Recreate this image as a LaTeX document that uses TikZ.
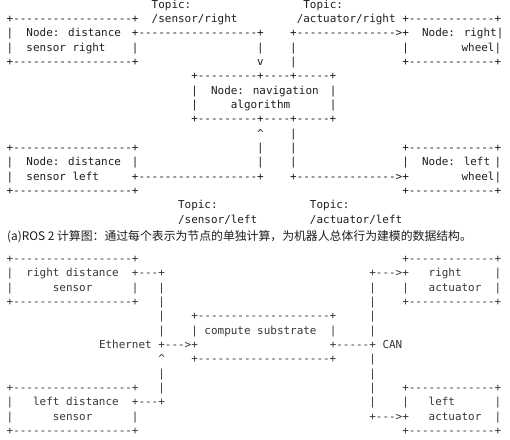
\documentclass[tikz,border=0pt]{standalone}
\usepackage{fontspec}
\newfontfamily\asciifont{DejaVu Sans Mono}[Ligatures=TeXOff]
\newfontfamily\cjkfont{Noto Sans CJK SC}
\definecolor{figK}{RGB}{30,30,30}
\definecolor{figG}{RGB}{55,55,55}

\begin{document}
\begin{tikzpicture}[cell/.style={anchor=base west,inner sep=0pt,outer sep=0pt,font=\asciifont\fontsize{10.95pt}{13pt}\selectfont}]
\fill[white] (0,0) rectangle (510pt,-439pt);
\useasboundingbox (0,0) rectangle (510pt,-439pt);
% (a) computation graph, one cell = one character
\begin{scope}[shift={(6.7pt,-8.27pt)},x=6.593pt,y=-14.33pt,every node/.style={cell,text=figK}]
\node (a0c22) at (22,0) {Topic:};
\node (a0c45) at (45,0) {Topic:};
\node (a1c0) at (0,1) {+------------------+};
\node (a1c22) at (22,1) {/sensor/right};
\node (a1c44) at (44,1) {/actuator/right};
\node (a1c60) at (60,1) {+-------------+};
\node (a2c0) at (0,2) {|};
\node (a2c3) at (3,2) {Node: distance};
\node (a2c19) at (19,2) {+------------------+};
\node (a2c43) at (43,2) {+--------------->+};
\node (a2c63) at (63,2) {Node: right|};
\node (a3c0) at (0,3) {|};
\node (a3c3) at (3,3) {sensor right};
\node (a3c19) at (19,3) {|};
\node (a3c38) at (38,3) {|};
\node (a3c43) at (43,3) {|};
\node (a3c60) at (60,3) {|};
\node (a3c69) at (69,3) {wheel|};
\node (a4c0) at (0,4) {+------------------+};
\node (a4c38) at (38,4) {v};
\node (a4c43) at (43,4) {|};
\node (a4c60) at (60,4) {+-------------+};
% navigation box
\node (a5c28) at (28,5) {+---------+----+-----+};
\node (a6c28) at (28,6) {|};
\node (a6c31) at (31,6) {Node: navigation};
\node (a6c49) at (49,6) {|};
\node (a7c28) at (28,7) {|};
\node (a7c34) at (34,7) {algorithm};
\node (a7c49) at (49,7) {|};
\node (a8c28) at (28,8) {+---------+----+-----+};
\node (a9c38) at (38,9) {\textasciicircum};
\node (a9c43) at (43,9) {|};
\node (a10c0) at (0,10) {+------------------+};
\node (a10c38) at (38,10) {|};
\node (a10c43) at (43,10) {|};
\node (a10c60) at (60,10) {+-------------+};
\node (a11c0) at (0,11) {|};
\node (a11c3) at (3,11) {Node: distance};
\node (a11c19) at (19,11) {|};
\node (a11c38) at (38,11) {|};
\node (a11c43) at (43,11) {|};
\node (a11c60) at (60,11) {|};
\node (a11c63) at (63,11) {Node: left};
\node (a11c74) at (74,11) {|};
\node (a12c0) at (0,12) {|};
\node (a12c3) at (3,12) {sensor left};
\node (a12c19) at (19,12) {+------------------+};
\node (a12c43) at (43,12) {+--------------->+};
\node (a12c69) at (69,12) {wheel|};
\node (a13c0) at (0,13) {+------------------+};
\node (a13c60) at (60,13) {+-------------+};
\node (a14c26) at (26,14) {Topic:};
\node (a14c46) at (46,14) {Topic:};
\node (a15c26) at (26,15) {/sensor/left};
\node (a15c46) at (46,15) {/actuator/left};
\end{scope}
\node[anchor=base west,inner sep=0pt,text=figK,font=\cjkfont\fontsize{11.85pt}{14pt}\selectfont] (capA) at (7pt,-240pt) {(a)ROS 2 计算图：通过每个表示为节点的单独计算，为机器人总体行为建模的数据结构。};
% (b) the same graph on a compute substrate
\begin{scope}[shift={(6.7pt,-262.6pt)},x=6.593pt,y=-14.33pt,every node/.style={cell,text=figG}]
\node (b0c0) at (0,0) {+------------------+};
\node (b0c60) at (60,0) {+-------------+};
\node (b1c0) at (0,1) {|};
\node (b1c3) at (3,1) {right distance};
\node (b1c19) at (19,1) {+---+};
\node (b1c55) at (55,1) {+--->+};
\node (b1c64) at (64,1) {right};
\node (b1c74) at (74,1) {|};
\node (b2c0) at (0,2) {|};
\node (b2c7) at (7,2) {sensor};
\node (b2c19) at (19,2) {|};
\node (b2c23) at (23,2) {|};
\node (b2c55) at (55,2) {|};
\node (b2c60) at (60,2) {|};
\node (b2c64) at (64,2) {actuator};
\node (b2c74) at (74,2) {|};
\node (b3c0) at (0,3) {+------------------+};
\node (b3c23) at (23,3) {|};
\node (b3c55) at (55,3) {|};
\node (b3c60) at (60,3) {+-------------+};
\node (b4c23) at (23,4) {|};
\node (b4c28) at (28,4) {+--------------------+};
\node (b4c55) at (55,4) {|};
\node (b5c23) at (23,5) {|};
\node (b5c28) at (28,5) {|};
\node (b5c30) at (30,5) {compute substrate};
\node (b5c49) at (49,5) {|};
\node (b5c55) at (55,5) {|};
\node (b6c14) at (14,6) {Ethernet};
\node (b6c23) at (23,6) {+--->+};
\node (b6c49) at (49,6) {+-----+};
\node (b6c57) at (57,6) {CAN};
\node (b7c23) at (23,7) {\textasciicircum};
\node (b7c28) at (28,7) {+--------------------+};
\node (b7c55) at (55,7) {|};
\node (b8c23) at (23,8) {|};
\node (b8c55) at (55,8) {|};
\node (b9c0) at (0,9) {+------------------+};
\node (b9c23) at (23,9) {|};
\node (b9c55) at (55,9) {|};
\node (b9c60) at (60,9) {+-------------+};
\node (b10c0) at (0,10) {|};
\node (b10c4) at (4,10) {left distance};
\node (b10c19) at (19,10) {+---+};
\node (b10c55) at (55,10) {|};
\node (b10c60) at (60,10) {|};
\node (b10c64) at (64,10) {left};
\node (b10c74) at (74,10) {|};
\node (b11c0) at (0,11) {|};
\node (b11c7) at (7,11) {sensor};
\node (b11c19) at (19,11) {|};
\node (b11c55) at (55,11) {+--->+};
\node (b11c64) at (64,11) {actuator};
\node (b11c74) at (74,11) {|};
\node (b12c0) at (0,12) {+------------------+};
\node (b12c60) at (60,12) {+-------------+};
\end{scope}
\end{tikzpicture}
\end{document}
